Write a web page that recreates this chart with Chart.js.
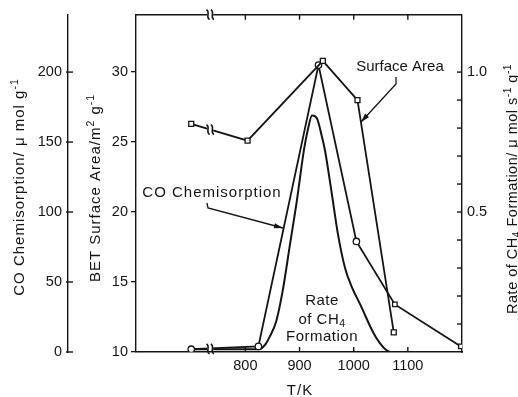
<!DOCTYPE html>
<html>
<head>
<meta charset="utf-8">
<script src="https://cdn.jsdelivr.net/npm/chart.js@4.4.0/dist/chart.umd.min.js"></script>
<style>
  html, body { margin: 0; padding: 0; background: #fff; }
  canvas { display: block; }
</style>
</head>
<body>
<canvas id="chart" width="518" height="397"></canvas>
<script>
// temperatures in K; 700 is where the as-prepared sample sits, left of the axis break
const saTemp = [700, 804, 943, 1007, 1074];
const saValue = [26.3, 25.1, 30.8, 28.0, 11.4];          // BET m2/g

const coTemp = [700, 824, 935, 1005, 1076, 1198];
const coValue = [2, 4, 205, 79, 34, 4];                   // umol/g
const coStyle = ['circle', 'circle', 'circle', 'circle', 'rect', 'rect'];

const rateTemp = [700, 825, 836, 845, 857, 869, 882, 895, 908, 916, 923, 932, 940, 947, 960, 971, 984, 997, 1012, 1036, 1049, 1060, 1067];
const rateValue = [0.01, 0.01, 0.025, 0.055, 0.11, 0.22, 0.38, 0.54, 0.72, 0.80, 0.845, 0.835, 0.78, 0.72, 0.56, 0.42, 0.30, 0.23, 0.17, 0.07, 0.03, 0.007, 0];

const xTicks = [800, 900, 1000, 1100];
const betTicks = [10, 15, 20, 25, 30];
const coTicks = [0, 50, 100, 150, 200];
const rateTicks = [0.1, 0.2, 0.3, 0.4, 0.5, 0.6, 0.7, 0.8, 0.9, 1.0];
const rateLabelled = [0.5, 1.0];
const breakTemp = 735;

const ink = '#141414';
const family = "'Liberation Sans', Arial, Helvetica, sans-serif";
Chart.defaults.font.family = family;
Chart.defaults.font.size = 14.5;
Chart.defaults.color = ink;

function xy(xs, ys) {
  return xs.map((x, i) => ({ x: x, y: ys[i] }));
}

function line(ctx, x1, y1, x2, y2) {
  ctx.beginPath();
  ctx.moveTo(x1, y1);
  ctx.lineTo(x2, y2);
  ctx.stroke();
}

// text with super/subscripts, centred on (cx, cy), optionally turned to read upwards
function richText(ctx, parts, cx, cy, size, spacing, upright) {
  ctx.save();
  ctx.translate(cx, cy);
  if (upright) ctx.rotate(-Math.PI / 2);
  ctx.letterSpacing = spacing + 'px';
  ctx.textAlign = 'left';
  ctx.textBaseline = 'alphabetic';
  ctx.fillStyle = ink;
  const fontFor = s => (s ? size * 0.7 : size) + 'px ' + family;
  let w = 0;
  parts.forEach(p => { ctx.font = fontFor(p[1]); w += ctx.measureText(p[0]).width; });
  let px = -w / 2;
  const base = size * 0.36;
  parts.forEach(p => {
    ctx.font = fontFor(p[1]);
    const dy = p[1] === 1 ? -size * 0.4 : (p[1] === -1 ? size * 0.2 : 0);
    ctx.fillText(p[0], px, base + dy);
    px += ctx.measureText(p[0]).width;
  });
  ctx.restore();
}

function arrow(ctx, pts) {
  ctx.beginPath();
  ctx.moveTo(pts[0][0], pts[0][1]);
  for (let i = 1; i < pts.length; i++) ctx.lineTo(pts[i][0], pts[i][1]);
  ctx.stroke();
  const a = pts[pts.length - 2], b = pts[pts.length - 1];
  const ang = Math.atan2(b[1] - a[1], b[0] - a[0]);
  ctx.beginPath();
  ctx.moveTo(b[0], b[1]);
  ctx.lineTo(b[0] - 9 * Math.cos(ang) + 2.6 * Math.sin(ang), b[1] - 9 * Math.sin(ang) - 2.6 * Math.cos(ang));
  ctx.lineTo(b[0] - 9 * Math.cos(ang) - 2.6 * Math.sin(ang), b[1] - 9 * Math.sin(ang) + 2.6 * Math.cos(ang));
  ctx.closePath();
  ctx.fill();
}

function breakMark(ctx, cx, cy, clearH) {
  ctx.fillStyle = '#fff';
  ctx.fillRect(cx - 3, cy - clearH / 2, 6, clearH);
  ctx.beginPath();
  [-2.2, 2.2].forEach(dx => {
    ctx.moveTo(cx + dx - 1.5, cy - 5);
    ctx.bezierCurveTo(cx + dx + 3, cy - 2, cx + dx - 3, cy + 2, cx + dx + 1.5, cy + 5);
  });
  ctx.stroke();
  ctx.fillStyle = ink;
}

// y of a dataset's line at pixel x, between two of its points
function yOnSegment(chart, di, i0, px) {
  const pts = chart.getDatasetMeta(di).data;
  const a = pts[i0], b = pts[i0 + 1];
  return a.y + (b.y - a.y) * (px - a.x) / (b.x - a.x);
}

const extras = {
  id: 'extras',
  afterDraw(chart) {
    const ctx = chart.ctx;
    const { top, bottom, left, right } = chart.chartArea;
    const sx = chart.scales.x, sCO = chart.scales.yCO, sRate = chart.scales.yRate;
    ctx.save();
    ctx.strokeStyle = ink;
    ctx.fillStyle = ink;
    ctx.lineWidth = 1.4;

    line(ctx, left, top, right, top);
    xTicks.forEach(t => {
      const px = sx.getPixelForValue(t);
      line(ctx, px, top, px, top + 5);
      line(ctx, px, bottom, px, bottom - 5);
    });
    rateTicks.forEach(v => {
      const py = sRate.getPixelForValue(v);
      line(ctx, right, py, right - 5, py);
    });
    coTicks.forEach(v => {
      const py = sCO.getPixelForValue(v);
      line(ctx, sCO.right - 2, py, sCO.right + 5, py);
    });

    // axis breaks
    const bx = sx.getPixelForValue(breakTemp);
    ctx.lineWidth = 1.5;
    breakMark(ctx, bx, top, 4);
    breakMark(ctx, bx, yOnSegment(chart, 0, 0, bx), 5);
    const yLow = (yOnSegment(chart, 1, 0, bx) + yOnSegment(chart, 2, 0, bx)) / 2;
    breakMark(ctx, bx, yLow, 4);

    // callouts
    ctx.lineWidth = 1.3;
    richText(ctx, [['Surface Area', 0]], 400, 66, 15, 0, false);
    arrow(ctx, [[396, 77], [396, 84], [361, 122]]);
    richText(ctx, [['CO Chemisorption', 0]], 212, 192, 15, 1, false);
    arrow(ctx, [[207, 203], [208, 208], [283, 228]]);
    richText(ctx, [['Rate', 0]], 322, 300, 15, 0.5, false);
    richText(ctx, [['of CH', 0], ['4', -1]], 322, 319, 15, 0.5, false);
    richText(ctx, [['Formation', 0]], 322, 336, 15, 0.5, false);

    // axis titles
    richText(ctx, [['CO Chemisorption/ μ mol g', 0], ['-1', 1]], 18.5, 187, 15, 1, true);
    richText(ctx, [['BET Surface Area/m', 0], ['2', 1], [' g', 0], ['-1', 1]], 95, 188, 15, 1, true);
    richText(ctx, [['Rate of CH', 0], ['4', -1], [' Formation/ μ mol s', 0], ['-1', 1], [' g', 0], ['-1', 1]], 512, 189, 14.5, 0.5, true);
    richText(ctx, [['T/K', 0]], 300, 390, 15, 1, false);
    ctx.restore();
  }
};

const noGrid = { display: false, drawTicks: false, tickLength: 0 };
const frame = { display: true, color: ink, width: 1.4 };

new Chart(document.getElementById('chart').getContext('2d'), {
  type: 'line',
  data: {
    datasets: [
      {
        label: 'Surface Area',
        data: xy(saTemp, saValue),
        yAxisID: 'yBET',
        borderColor: ink, borderWidth: 1.8, tension: 0,
        pointStyle: 'rect', pointRadius: 3.5,
        pointBackgroundColor: '#fff', pointBorderColor: ink, pointBorderWidth: 1.3
      },
      {
        label: 'CO Chemisorption',
        data: xy(coTemp, coValue),
        yAxisID: 'yCO',
        borderColor: ink, borderWidth: 1.8, tension: 0,
        pointStyle: coStyle, pointRadius: 3.2,
        pointBackgroundColor: '#fff', pointBorderColor: ink, pointBorderWidth: 1.3
      },
      {
        label: 'Rate of CH4 Formation',
        data: xy(rateTemp, rateValue),
        yAxisID: 'yRate',
        borderColor: ink, borderWidth: 2, pointRadius: 0,
        cubicInterpolationMode: 'monotone'
      }
    ]
  },
  options: {
    responsive: false,
    animation: false,
    devicePixelRatio: 1,
    layout: { padding: { top: 14, left: 0, right: 0, bottom: 0 } },
    plugins: { legend: { display: false }, tooltip: { enabled: false } },
    scales: {
      x: {
        type: 'linear', position: 'bottom', min: 598, max: 1200,
        afterBuildTicks: s => { s.ticks = xTicks.map(v => ({ value: v })); },
        afterFit: s => { s.height = 45; },
        grid: noGrid, border: frame,
        ticks: { padding: 5, maxRotation: 0, autoSkip: false, callback: v => String(v) }
      },
      yBET: {
        type: 'linear', position: 'left', weight: 1, min: 10, max: 34.1,
        afterBuildTicks: s => { s.ticks = betTicks.map(v => ({ value: v })); },
        afterFit: s => { s.width = 68; },
        grid: { display: true, drawOnChartArea: false, drawTicks: true, tickLength: 5, color: ink, lineWidth: 1.3 },
        border: frame,
        ticks: { padding: 3, callback: v => String(v) }
      },
      yCO: {
        type: 'linear', position: 'left', weight: 2, min: 0, max: 241,
        afterBuildTicks: s => { s.ticks = coTicks.map(v => ({ value: v })); },
        afterFit: s => { s.width = 68; },
        grid: noGrid, border: frame,
        ticks: { padding: 6, callback: v => String(v) }
      },
      yRate: {
        type: 'linear', position: 'right', min: 0, max: 1.205,
        afterBuildTicks: s => { s.ticks = rateTicks.map(v => ({ value: v })); },
        afterFit: s => { s.width = 56; },
        grid: noGrid, border: frame,
        ticks: {
          padding: 5,
          callback: v => rateLabelled.some(r => Math.abs(r - v) < 1e-6) ? v.toFixed(1) : ''
        }
      }
    }
  },
  plugins: [extras]
});
</script>
</body>
</html>
